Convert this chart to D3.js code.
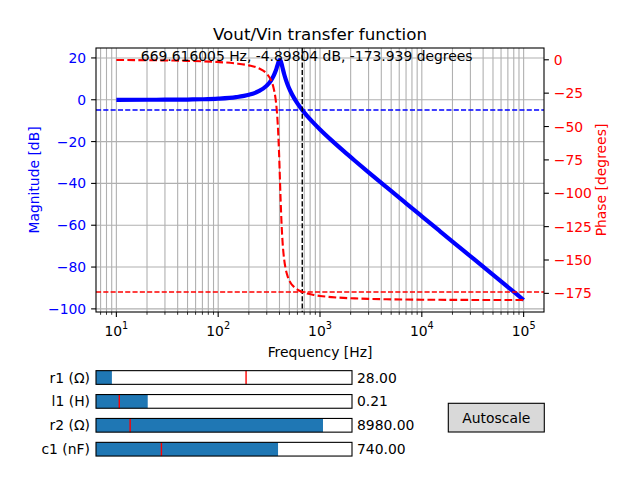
<!DOCTYPE html>
<meta charset="utf-8">
<style>
  body { margin: 0; background: #fff; }
  text { font-family: "DejaVu Sans", sans-serif; font-size: 13.9px; }
</style>
<svg width="640" height="480"></svg>
<script src="https://d3js.org/d3.v7.min.js"></script>
<script>
  // Bode data (frequency in Hz, magnitude in dB, phase in degrees)
  var freq = [10, 20, 30, 50, 70, 100, 150, 200, 250, 300, 330, 350, 365, 375, 385, 395, 400, 404.36, 410, 420,
    430, 445, 460, 480, 510, 550, 600, 669.6, 750, 850, 1000, 1300, 1700, 2200, 3000, 4500, 7000, 10000, 15000, 25000,
    40000, 60000, 100000];
  var magnitude = [-0.022, -0.006, 0.021, 0.106, 0.236, 0.517, 1.249, 2.387, 4.103, 6.772, 9.187, 11.385, 13.492, 15.156,
    16.952, 18.511, 18.945, 19.011, 18.632, 17.033, 15.028, 12.215, 9.859, 7.303, 4.305, 1.248, -1.705, -4.898, -7.807,
    -10.725, -14.218, -19.437, -24.472, -29.157, -34.683, -41.815, -49.531, -55.742, -62.794, -71.671, -79.838, -86.882,
    -95.756];
  var phase = [-0.158, -0.317, -0.478, -0.804, -1.142, -1.686, -2.751, -4.183, -6.379, -10.446, -15.268, -21.08, -28.57,
    -36.50, -48.69, -67.25, -79.01, -90.0, -103.92, -124.19, -137.76, -149.78, -156.63, -162.04, -166.59, -169.87,
    -172.15, -173.94, -175.15, -176.07, -176.91, -177.80, -178.39, -178.78, -179.12, -179.42, -179.63, -179.74, -179.83,
    -179.90, -179.94, -179.96, -179.97];

  // cursor readout
  var cursorFreq = 669.616005,
    cursorMag = -4.89804,
    cursorPhase = -173.939;

  var magTicks = [20, 0, -20, -40, -60, -80, -100];
  var phaseTicks = [0, -25, -50, -75, -100, -125, -150, -175];
  var freqTicks = [10, 100, 1000, 10000, 100000];

  // sliders
  var sliderLabels = ["r1 (Ω)", "l1 (H)", "r2 (Ω)", "c1 (nF)"];
  var sliderValues = [28, 0.21, 8980, 740];
  var sliderMin = [10, 0.01, 1000, 100];
  var sliderMax = [300, 1, 10000, 1000];
  var sliderInit = [180, 0.1, 2200, 330];

  var svg = d3.select("svg");
  var margin = { left: 96, right: 544, top: 48, bottom: 312 };

  function pad(ext) {
    var d = (ext[1] - ext[0]) * 0.05;
    return [ext[0] - d, ext[1] + d];
  }

  var lf = d3.extent(freq).map(Math.log10);
  var lfPad = pad(lf);
  var x = d3.scaleLog()
    .domain([Math.pow(10, lfPad[0]), Math.pow(10, lfPad[1])])
    .range([margin.left, margin.right]);
  var y = d3.scaleLinear()
    .domain(pad(d3.extent(magnitude)))
    .range([margin.bottom, margin.top]);
  var y2 = d3.scaleLinear()
    .domain(pad(d3.extent(phase)))
    .range([margin.bottom, margin.top]);

  var data = freq.map(function (f, i) {
    return { f: f, mag: magnitude[i], ph: phase[i] };
  });

  svg.append("defs").append("clipPath").attr("id", "clip")
    .append("rect")
    .attr("x", margin.left).attr("y", margin.top)
    .attr("width", margin.right - margin.left)
    .attr("height", margin.bottom - margin.top);

  // minor ticks positions for log axis
  var minor = [];
  [1, 10, 100, 1000, 10000, 100000].forEach(function (d) {
    for (var k = 2; k <= 9; k++) {
      var v = d * k;
      if (v >= x.domain()[0] && v <= x.domain()[1]) minor.push(v);
    }
  });

  // grid
  var grid = svg.append("g").attr("stroke", "#b0b0b0").attr("stroke-width", 1.1);
  freqTicks.concat(minor).forEach(function (v) {
    grid.append("line")
      .attr("x1", x(v)).attr("x2", x(v))
      .attr("y1", margin.top).attr("y2", margin.bottom);
  });
  magTicks.forEach(function (v) {
    grid.append("line")
      .attr("x1", margin.left).attr("x2", margin.right)
      .attr("y1", y(v)).attr("y2", y(v));
  });

  var plot = svg.append("g").attr("clip-path", "url(#clip)");

  var magLine = d3.line()
    .x(function (d) { return x(d.f); })
    .y(function (d) { return y(d.mag); })
    .curve(d3.curveMonotoneX);
  var phLine = d3.line()
    .x(function (d) { return x(d.f); })
    .y(function (d) { return y2(d.ph); })
    .curve(d3.curveMonotoneX);

  plot.append("path")
    .datum(data)
    .attr("fill", "none")
    .attr("stroke", "blue")
    .attr("stroke-width", 4.2)
    .attr("d", magLine);

  plot.append("line")
    .attr("x1", margin.left).attr("x2", margin.right)
    .attr("y1", y(cursorMag)).attr("y2", y(cursorMag))
    .attr("stroke", "blue").attr("stroke-width", 1.4)
    .attr("stroke-dasharray", "5.1,2.2");

  plot.append("line")
    .attr("x1", x(cursorFreq)).attr("x2", x(cursorFreq))
    .attr("y1", margin.top).attr("y2", margin.bottom)
    .attr("stroke", "black").attr("stroke-width", 1.4)
    .attr("stroke-dasharray", "5.1,2.2");

  plot.append("path")
    .datum(data)
    .attr("fill", "none")
    .attr("stroke", "red")
    .attr("stroke-width", 2.1)
    .attr("stroke-dasharray", "7.7,3.3")
    .attr("d", phLine);

  plot.append("line")
    .attr("x1", margin.left).attr("x2", margin.right)
    .attr("y1", y2(cursorPhase)).attr("y2", y2(cursorPhase))
    .attr("stroke", "red").attr("stroke-width", 1.4)
    .attr("stroke-dasharray", "5.1,2.2");

  // frame
  svg.append("rect")
    .attr("x", margin.left).attr("y", margin.top)
    .attr("width", margin.right - margin.left)
    .attr("height", margin.bottom - margin.top)
    .attr("fill", "none").attr("stroke", "black").attr("stroke-width", 1.1);

  // x axis ticks
  var ax = svg.append("g");
  freqTicks.forEach(function (v) {
    ax.append("line")
      .attr("x1", x(v)).attr("x2", x(v))
      .attr("y1", margin.bottom).attr("y2", margin.bottom + 4.9)
      .attr("stroke", "black").attr("stroke-width", 1.1);
    var t = ax.append("text")
      .attr("x", x(v)).attr("y", 336)
      .attr("text-anchor", "middle");
    t.append("tspan").text("10");
    t.append("tspan")
      .attr("dy", -7)
      .style("font-size", "9.7px")
      .text(Math.round(Math.log10(v)));
  });
  minor.forEach(function (v) {
    ax.append("line")
      .attr("x1", x(v)).attr("x2", x(v))
      .attr("y1", margin.bottom).attr("y2", margin.bottom + 2.8)
      .attr("stroke", "black").attr("stroke-width", 0.8);
  });

  // left axis
  magTicks.forEach(function (v) {
    ax.append("line")
      .attr("x1", margin.left - 4.9).attr("x2", margin.left)
      .attr("y1", y(v)).attr("y2", y(v))
      .attr("stroke", "black").attr("stroke-width", 1.1);
    ax.append("text")
      .attr("x", margin.left - 9.8).attr("y", y(v))
      .attr("dy", "0.36em")
      .attr("text-anchor", "end")
      .attr("fill", "blue")
      .text(d3.format("d")(v));
  });

  // right axis
  phaseTicks.forEach(function (v) {
    ax.append("line")
      .attr("x1", margin.right).attr("x2", margin.right + 4.9)
      .attr("y1", y2(v)).attr("y2", y2(v))
      .attr("stroke", "black").attr("stroke-width", 1.1);
    ax.append("text")
      .attr("x", margin.right + 9.8).attr("y", y2(v))
      .attr("dy", "0.36em")
      .attr("fill", "red")
      .text(d3.format("d")(v));
  });

  // labels
  svg.append("text")
    .attr("x", 320).attr("y", 39.7)
    .attr("text-anchor", "middle")
    .style("font-size", "16.7px")
    .text("Vout/Vin transfer function");

  svg.append("text")
    .attr("x", 320).attr("y", 356.5)
    .attr("text-anchor", "middle")
    .text("Frequency [Hz]");

  svg.append("text")
    .attr("transform", "translate(38.5,180) rotate(-90)")
    .attr("text-anchor", "middle")
    .attr("fill", "blue")
    .text("Magnitude [dB]");

  svg.append("text")
    .attr("transform", "translate(606,180) rotate(-90)")
    .attr("text-anchor", "middle")
    .attr("fill", "red")
    .text("Phase [degrees]");

  svg.append("text")
    .attr("x", margin.left + 0.1 * (margin.right - margin.left))
    .attr("y", margin.top + 0.05 * (margin.bottom - margin.top))
    .text(cursorFreq.toFixed(6) + " Hz, " + cursorMag + " dB, " + cursorPhase + " degrees");

  // sliders
  var rowY = d3.scalePoint()
    .domain(sliderLabels)
    .range([377.5, 449.2]);
  var sh = 13.7;

  sliderLabels.forEach(function (lab, i) {
    var sx = d3.scaleLinear()
      .domain([sliderMin[i], sliderMax[i]])
      .range([96, 352]);
    var cy = rowY(lab);
    var g = svg.append("g");
    g.append("rect")
      .attr("x", sx(sliderMin[i])).attr("y", cy - sh / 2)
      .attr("width", sx(sliderMax[i]) - sx(sliderMin[i])).attr("height", sh)
      .attr("fill", "white");
    g.append("rect")
      .attr("x", sx(sliderMin[i])).attr("y", cy - sh / 2)
      .attr("width", sx(sliderValues[i]) - sx(sliderMin[i])).attr("height", sh)
      .attr("fill", "#1f77b4");
    g.append("line")
      .attr("x1", sx(sliderInit[i])).attr("x2", sx(sliderInit[i]))
      .attr("y1", cy - sh / 2).attr("y2", cy + sh / 2)
      .attr("stroke", "red").attr("stroke-width", 1.4);
    g.append("rect")
      .attr("x", sx(sliderMin[i])).attr("y", cy - sh / 2)
      .attr("width", sx(sliderMax[i]) - sx(sliderMin[i])).attr("height", sh)
      .attr("fill", "none").attr("stroke", "black").attr("stroke-width", 1.1);
    g.append("text")
      .attr("x", 90).attr("y", cy).attr("dy", "0.36em")
      .attr("text-anchor", "end")
      .text(lab);
    g.append("text")
      .attr("x", 357).attr("y", cy).attr("dy", "0.36em")
      .text(d3.format(".2f")(sliderValues[i]));
  });

  // button
  svg.append("rect")
    .attr("x", 448.3).attr("y", 403.3)
    .attr("width", 96).attr("height", 28.7)
    .attr("fill", "#d9d9d9").attr("stroke", "black").attr("stroke-width", 1.1);
  svg.append("text")
    .attr("x", 496.3).attr("y", 417.7).attr("dy", "0.36em")
    .attr("text-anchor", "middle")
    .text("Autoscale");
</script>
